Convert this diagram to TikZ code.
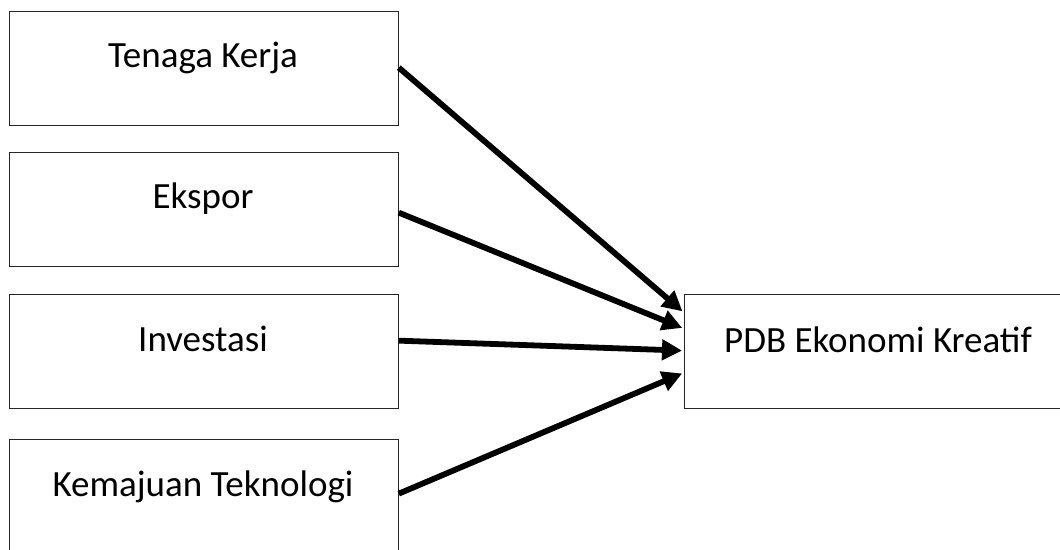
\documentclass[tikz,border=0pt]{standalone}
\usepackage{fontspec}
\setmainfont{Carlito}
\usetikzlibrary{arrows.meta}
\begin{document}
\begin{tikzpicture}[x=1pt,y=-1pt,
  box/.style={draw=black!85,line width=1.3pt,rectangle,minimum width=389pt,minimum height=114pt,inner sep=0pt,anchor=north west},
  lbl/.style={font=\fontsize{37}{37}\selectfont,anchor=base,inner sep=0pt},
  arr/.style={line width=5.8pt,-{Triangle[length=20pt,width=20pt]},shorten >=2pt}]
\useasboundingbox (0,0) rectangle (1060,549);
\node[box] (tk) at (8.5,11) {};
\node[box] (ek) at (8.5,152) {};
\node[box] (in) at (8.5,294) {};
\node[box] (kt) at (8.5,439) {};
\node[box,minimum width=400pt] (pdb) at (684,294) {};
\node[lbl] (tkl) at (203,67) {Tenaga Kerja};
\node[lbl] (ekl) at (203,208) {Ekspor};
\node[lbl] (inl) at (203,351) {Investasi};
\node[lbl] (ktl) at (203,496) {Kemajuan Teknologi};
\node[lbl] (pdbl) at (878,352) {PDB Ekonomi Kreatif};
\draw[arr] ([yshift=1pt]tk.east) -- ([yshift=39pt]pdb.west);
\draw[arr] ([yshift=-3pt]ek.east) -- ([yshift=23pt]pdb.west);
\draw[arr] ([yshift=11pt]in.east) -- ([yshift=1pt]pdb.west);
\draw[arr] ([yshift=3pt]kt.east) -- ([yshift=-21pt]pdb.west);
\end{tikzpicture}
\end{document}
